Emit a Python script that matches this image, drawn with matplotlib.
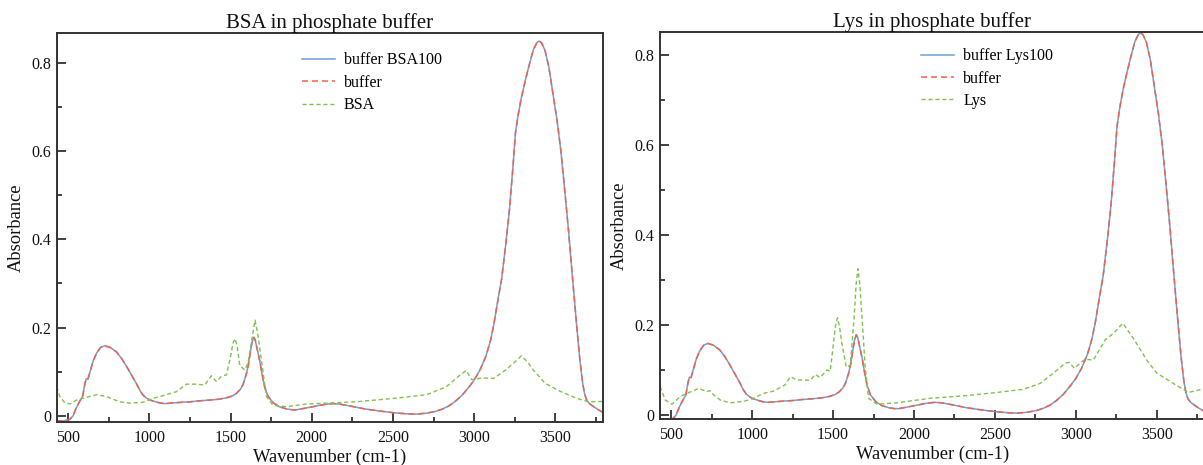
import matplotlib
matplotlib.use("Agg")
import matplotlib.pyplot as plt
from matplotlib.ticker import MultipleLocator, FuncFormatter

plt.rcParams['font.family'] = ['Liberation Serif', 'DejaVu Serif']

# ---- data ----
wavenumber = [430, 470, 510, 530, 550, 570, 590, 603, 612, 622, 635, 655, 675, 700, 726,
              760, 798, 830, 859, 890, 921, 945, 962, 985, 1005, 1040, 1070, 1100, 1130,
              1200, 1250, 1300, 1372, 1430, 1475, 1510, 1536, 1560, 1577, 1595, 1608, 1620,
              1632, 1643, 1652, 1665, 1680, 1695, 1710, 1730, 1762, 1800, 1844, 1880, 1905,
              1950, 2008, 2060, 2100, 2131, 2170, 2230, 2326, 2420, 2512, 2580, 2635, 2700,
              2759, 2800, 2841, 2880, 2923, 2960, 2998, 3037, 3072, 3100, 3120, 3145, 3169,
              3195, 3218, 3240, 3254, 3270, 3290, 3315, 3339, 3365, 3387, 3400, 3415, 3436,
              3460, 3485, 3510, 3534, 3558, 3582, 3606, 3631, 3650, 3667, 3680, 3692, 3710,
              3728, 3760, 3794]
buffer_abs = [-0.011, -0.011, -0.008, 0.0, 0.018, 0.032, 0.045, 0.072, 0.084, 0.083, 0.100,
              0.125, 0.142, 0.155, 0.159, 0.155, 0.145, 0.130, 0.113, 0.093, 0.073, 0.056,
              0.047, 0.040, 0.036, 0.032, 0.029, 0.028, 0.029, 0.031, 0.032, 0.034, 0.036,
              0.038, 0.041, 0.045, 0.051, 0.060, 0.071, 0.092, 0.112, 0.140, 0.166, 0.178,
              0.172, 0.150, 0.125, 0.093, 0.066, 0.045, 0.030, 0.021, 0.016, 0.014, 0.014,
              0.017, 0.021, 0.025, 0.027, 0.028, 0.027, 0.023, 0.016, 0.011, 0.007, 0.005,
              0.004, 0.006, 0.010, 0.015, 0.022, 0.032, 0.046, 0.062, 0.080, 0.105, 0.135,
              0.170, 0.205, 0.260, 0.310, 0.390, 0.470, 0.570, 0.640, 0.680, 0.720, 0.760,
              0.795, 0.830, 0.846, 0.849, 0.845, 0.828, 0.790, 0.730, 0.670, 0.600, 0.510,
              0.415, 0.310, 0.205, 0.130, 0.076, 0.050, 0.036, 0.028, 0.023, 0.015, 0.008]
buffer_bsa100_abs = list(buffer_abs)
buffer_lys100_abs = list(buffer_abs)

bsa_wn = [430, 449, 480, 510, 552, 592, 640, 675, 736, 818, 880, 962, 1023, 1085, 1167,
          1229, 1290, 1341, 1382, 1413, 1444, 1475, 1500, 1515, 1528, 1540, 1557, 1587,
          1608, 1630, 1651, 1670, 1690, 1721, 1762, 1844, 1967, 2090, 2269, 2512, 2707,
          2828, 2901, 2950, 2986, 3047, 3120, 3193, 3250, 3290, 3330, 3364, 3436, 3534,
          3631, 3704, 3794]
bsa_abs = [0.066, 0.044, 0.030, 0.027, 0.036, 0.040, 0.045, 0.048, 0.044, 0.032, 0.029,
           0.031, 0.040, 0.046, 0.055, 0.072, 0.072, 0.070, 0.091, 0.078, 0.090, 0.093,
           0.134, 0.165, 0.175, 0.160, 0.115, 0.104, 0.120, 0.170, 0.217, 0.180, 0.127,
           0.044, 0.024, 0.021, 0.027, 0.029, 0.032, 0.040, 0.048, 0.066, 0.089, 0.103,
           0.082, 0.086, 0.085, 0.104, 0.122, 0.136, 0.122, 0.104, 0.074, 0.055, 0.040,
           0.032, 0.033]

lys_wn = [430, 463, 504, 556, 597, 669, 720, 740, 760, 803, 864, 947, 1008, 1070, 1132,
          1204, 1235, 1276, 1359, 1389, 1420, 1462, 1482, 1502, 1515, 1527, 1540, 1554,
          1581, 1606, 1630, 1642, 1653, 1665, 1678, 1698, 1719, 1771, 1894, 2100, 2326,
          2512, 2676, 2779, 2861, 2934, 2960, 2990, 3057, 3108, 3181, 3232, 3290, 3356,
          3438, 3500, 3603, 3695, 3767, 3794]
lys_abs = [0.063, 0.033, 0.024, 0.041, 0.048, 0.059, 0.052, 0.054, 0.045, 0.033, 0.027,
           0.030, 0.037, 0.048, 0.053, 0.067, 0.085, 0.078, 0.077, 0.090, 0.083, 0.100,
           0.097, 0.159, 0.200, 0.216, 0.195, 0.159, 0.106, 0.110, 0.218, 0.290, 0.325,
           0.290, 0.218, 0.107, 0.037, 0.024, 0.027, 0.037, 0.043, 0.050, 0.057, 0.070,
           0.093, 0.115, 0.117, 0.104, 0.124, 0.122, 0.167, 0.181, 0.204, 0.170, 0.122,
           0.093, 0.070, 0.050, 0.056, 0.055]

xticks = [500, 1000, 1500, 2000, 2500, 3000, 3500]
titles = ["BSA in phosphate buffer", "Lys in phosphate buffer"]

# ---- style ----
c_blue = '#6f9fd6'
c_red = '#f2624a'
c_green = '#82c050'
spine_c = '#333333'

W, H = 1203, 465
fig = plt.figure(figsize=(W / 100, H / 100), dpi=100, facecolor='white')

def px_axes(l, t, r, b):
    return [l / W, 1 - b / H, (r - l) / W, (b - t) / H]

ax1 = fig.add_axes(px_axes(56.7, 33.3, 603.3, 421.7))
ax2 = fig.add_axes(px_axes(660, 32.3, 1204.5, 419))

panels = [
    (ax1, buffer_bsa100_abs, 'buffer BSA100', bsa_wn, bsa_abs, 'BSA', (-0.013, 0.8666), (0.448, 0.951)),
    (ax2, buffer_lys100_abs, 'buffer Lys100', lys_wn, lys_abs, 'Lys', (-0.009, 0.8504), (0.479, 0.959)),
]

for i, (ax, samp, samp_lab, pwn, pabs, plab, ylim, lpos) in enumerate(panels):
    ax.plot(wavenumber, samp, color=c_blue, lw=1.1, label=samp_lab)
    ax.plot(wavenumber, buffer_abs, color=c_red, lw=1.1, ls=(0, (4, 2.5)), label='buffer')
    ax.plot(pwn, pabs, color=c_green, lw=1.0, ls=(0, (3, 2)), label=plab)
    ax.set_xlim(430, 3795)
    ax.set_ylim(*ylim)
    ax.set_xticks(xticks)
    ax.xaxis.set_minor_locator(MultipleLocator(250))
    ax.yaxis.set_major_locator(MultipleLocator(0.2))
    ax.yaxis.set_minor_locator(MultipleLocator(0.1))
    ax.yaxis.set_major_formatter(FuncFormatter(lambda v, p: '0' if abs(v) < 1e-9 else f'{v:.1f}'))
    ax.tick_params(which='both', direction='in', top=False, right=False,
                   color=spine_c, width=1.3, labelsize=11.5, labelcolor='#111111')
    ax.tick_params(which='major', length=6.5)
    ax.tick_params(which='minor', length=3.6)
    ax.tick_params(axis='x', pad=6)
    ax.tick_params(axis='y', pad=4)
    for s in ax.spines.values():
        s.set_color(spine_c)
        s.set_linewidth(1.4)
    ax.set_title(titles[i], fontsize=15, pad=4, color='#111111')
    ax.set_xlabel('Wavenumber (cm-1)', fontsize=13.3, labelpad=2, color='#111111')
    ax.set_ylabel('Absorbance', fontsize=13.3, labelpad=5, color='#111111')
    ax.legend(loc='upper left', bbox_to_anchor=lpos, frameon=False, fontsize=11.5,
              handlelength=2.1, handletextpad=0.55, labelspacing=0.4,
              borderpad=0, borderaxespad=0)

fig.savefig('out.png', dpi=100, facecolor='white')
